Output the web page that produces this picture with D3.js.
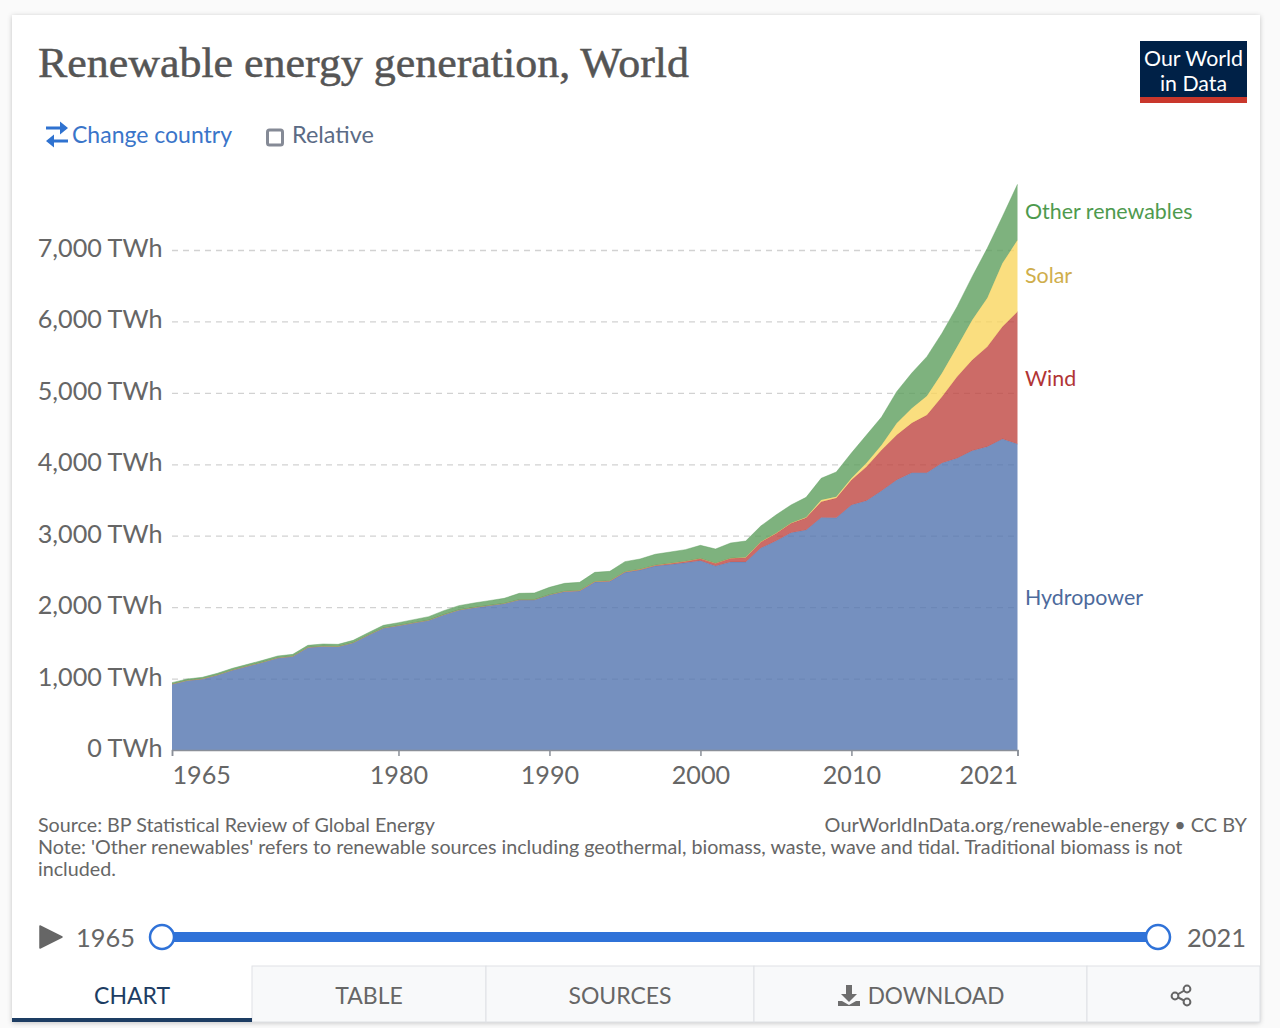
<!DOCTYPE html>
<html>
<head>
<meta charset="utf-8">
<script src="https://cdn.jsdelivr.net/npm/d3@7"></script>
<style>
  html, body { margin: 0; padding: 0; background: #fafafa; overflow: hidden; }
  svg { display: block; }
  text { font-family: Lato, sans-serif; }
</style>
</head>
<body>
<div id="contenedor"></div>
<script>
const ANCHO = 1280;
const ALTO = 1028;

const anios = d3.range(1965, 2022);

// values in TWh
const hydro = [923, 974, 996, 1051, 1120, 1175, 1230, 1290, 1312, 1437,
  1454, 1449, 1503, 1609, 1709, 1743, 1780, 1817, 1895, 1961,
  1994, 2023, 2051, 2103, 2103, 2172, 2218, 2227, 2352, 2361,
  2487, 2519, 2575, 2597, 2620, 2650, 2576, 2632, 2632, 2828,
  2926, 3040, 3080, 3255, 3250, 3430, 3490, 3630, 3780, 3883,
  3883, 4017, 4085, 4190, 4247, 4354, 4284];
const wind = [0, 0, 0, 0, 0, 0, 0, 0, 0, 0,
  0, 0, 0, 0, 0, 0, 0, 0, 0, 0,
  1, 1, 1, 1, 2, 3, 4, 5, 6, 7,
  8, 10, 12, 16, 21, 31, 38, 52, 63, 85,
  104, 133, 170, 222, 278, 350, 477, 570, 630, 694,
  807, 930, 1142, 1270, 1400, 1573, 1853];
const solar = [0, 0, 0, 0, 0, 0, 0, 0, 0, 0,
  0, 0, 0, 0, 0, 0, 0, 0, 0, 0,
  0, 0, 0, 0, 0, 0, 0, 0, 0, 0,
  0, 0, 0, 0, 1, 1, 1, 2, 3, 4,
  4, 6, 8, 23, 17, 24, 50, 70, 163, 208,
  267, 331, 420, 560, 680, 886, 1003];
const otras = [20, 20, 21, 22, 23, 24, 25, 26, 27, 28,
  30, 30, 32, 34, 36, 40, 45, 50, 56, 60,
  63, 67, 71, 89, 93, 102, 111, 115, 129, 133,
  142, 145, 153, 159, 163, 183, 199, 212, 228, 219,
  256, 251, 279, 304, 347, 354, 393, 392, 444, 493,
  550, 557, 560, 607, 698, 654, 780];

const nombres = ["Hydropower", "Wind", "Solar", "Other renewables"];
const colores = ["#5274af", "#bf4641", "#f9d65f", "#5e9f5e"];
const coloresTexto = ["#4c6a9c", "#b13535", "#cfae4c", "#4e9a4e"];
const posicionEtiqueta = [598, 379, 276, 212];
const marcasY = [0, 1000, 2000, 3000, 4000, 5000, 6000, 7000];
const marcasX = [1965, 1980, 1990, 2000, 2010, 2021];
const pestanias = ["CHART", "TABLE", "SOURCES", "DOWNLOAD", ""];
const cortesPestanias = [12, 252, 486, 754, 1087, 1260];

const filas = anios.map((a, i) => ({
  anio: a, Hydropower: hydro[i], Wind: wind[i], Solar: solar[i], "Other renewables": otras[i],
}));
const capas = d3.stack().keys(nombres)(filas);

const $svg = d3.select("#contenedor").append("svg")
  .attr("width", ANCHO).attr("height", ALTO);

const filtro = $svg.append("defs").append("filter").attr("id", "sombra")
  .attr("x", "-3%").attr("y", "-3%").attr("width", "106%").attr("height", "106%");
filtro.append("feDropShadow").attr("dx", 0).attr("dy", 1).attr("stdDeviation", 2.5)
  .attr("flood-color", "#000").attr("flood-opacity", 0.22);

// card
$svg.append("rect").attr("x", 12).attr("y", 15).attr("width", 1248).attr("height", 1007)
  .attr("fill", "#fff").attr("filter", "url(#sombra)");

// header
$svg.append("text").attr("x", 38).attr("y", 77)
  .attr("textLength", 651).attr("lengthAdjust", "spacingAndGlyphs")
  .style("font-family", "'Liberation Serif', serif").style("font-size", "43px")
  .attr("fill", "#555").attr("stroke", "#555").attr("stroke-width", 0.5)
  .text("Renewable energy generation, World");

$svg.append("rect").attr("x", 1140).attr("y", 41).attr("width", 107).attr("height", 62).attr("fill", "#002147");
$svg.append("rect").attr("x", 1140).attr("y", 97).attr("width", 107).attr("height", 6).attr("fill", "#c9372c");
$svg.append("text").attr("x", 1144).attr("y", 66)
  .attr("textLength", 99).attr("lengthAdjust", "spacingAndGlyphs")
  .style("font-size", "20.8px").attr("fill", "#fff").text("Our World");
$svg.append("text").attr("x", 1160).attr("y", 91)
  .attr("textLength", 67).attr("lengthAdjust", "spacingAndGlyphs")
  .style("font-size", "20.8px").attr("fill", "#fff").text("in Data");

// controls
$svg.append("path")
  .attr("d", "M46 126.5h14v-5l8 6.5l-8 6.5v-5h-14zM68 139.5h-14v-5l-8 6.5l8 6.5v-5h14z")
  .attr("fill", "#2f72d0");
$svg.append("text").attr("x", 72).attr("y", 143).style("font-size", "23px")
  .attr("fill", "#3a75c9").text("Change country");
$svg.append("rect").attr("x", 267.5).attr("y", 130).attr("width", 15).attr("height", 15).attr("rx", 2)
  .attr("fill", "#fff").attr("stroke", "#858a96").attr("stroke-width", 3);
$svg.append("text").attr("x", 292).attr("y", 143).style("font-size", "23.4px")
  .attr("fill", "#5b6b85").text("Relative");

// plot
const x = d3.scaleLinear().domain([1965, 2021]).range([172, 1017.5]);
const y = d3.scaleLinear().domain([0, 7000]).range([750, 250]);

const ejeY = d3.axisLeft(y).tickValues(marcasY)
  .tickSize(-(1017.5 - 172)).tickPadding(9.5)
  .tickFormat(d => d3.format(",")(d) + " TWh");
const gY = $svg.append("g").attr("transform", "translate(172,0)").call(ejeY);
gY.select(".domain").remove();
gY.selectAll("line").attr("stroke", "#d2d2d2").attr("stroke-width", 1.3).attr("stroke-dasharray", "6,5");
gY.selectAll("line").filter(d => d === 0).remove();
gY.selectAll("text").attr("fill", "#666").style("font-size", "25.2px").attr("dy", "0.26em");

const area = d3.area()
  .x((d, i) => x(anios[i]))
  .y0(d => y(d[0]))
  .y1(d => y(d[1]));
const linea = d3.line()
  .x((d, i) => x(anios[i]))
  .y(d => y(d[1]));

capas.forEach((capa, i) => {
  $svg.append("path").attr("d", area(capa)).attr("fill", colores[i]).attr("fill-opacity", 0.8);
  $svg.append("path").attr("d", linea(capa)).attr("fill", "none")
    .attr("stroke", colores[i]).attr("stroke-opacity", 0.55).attr("stroke-width", 0.8);
});

const ejeX = d3.axisBottom(x).tickValues(marcasX).tickSize(6).tickPadding(10)
  .tickFormat(d3.format("d"));
const gX = $svg.append("g").attr("transform", "translate(0,750)").call(ejeX);
gX.select(".domain").attr("stroke", "#8a8f98").attr("stroke-width", 1.5);
gX.selectAll("line").attr("stroke", "#8a8f98").attr("stroke-width", 1.5);
gX.selectAll("text").attr("fill", "#666").style("font-size", "25.2px")
  .attr("text-anchor", d => d === 1965 ? "start" : d === 2021 ? "end" : "middle");

// series labels
nombres.forEach((n, i) => {
  $svg.append("text").attr("x", 1025).attr("y", posicionEtiqueta[i]).attr("dy", "0.35em")
    .style("font-size", "21.4px").attr("fill", coloresTexto[i]).text(n);
});

// footer
const pie = $svg.append("g").attr("fill", "#666").style("font-size", "19.7px");
pie.append("text").attr("x", 38).attr("y", 832).text("Source: BP Statistical Review of Global Energy");
pie.append("text").attr("x", 1247).attr("y", 832).attr("text-anchor", "end").style("font-size", "19.9px").text("OurWorldInData.org/renewable-energy • CC BY");
pie.append("text").attr("x", 38).attr("y", 854).text("Note: 'Other renewables' refers to renewable sources including geothermal, biomass, waste, wave and tidal. Traditional biomass is not");
pie.append("text").attr("x", 38).attr("y", 876).text("included.");

// timeline
const xLinea = d3.scaleLinear().domain([1965, 2021]).range([162, 1158]);
$svg.append("path").attr("d", "M40 926L62 937L40 948Z").attr("fill", "#666").attr("stroke", "#666").attr("stroke-width", 1.5).attr("stroke-linejoin", "round");
$svg.append("text").attr("x", 76).attr("y", 947).style("font-size", "25.4px").attr("fill", "#666").text("1965");
$svg.append("text").attr("x", 1187).attr("y", 947).style("font-size", "25.4px").attr("fill", "#666").text("2021");
$svg.append("line").attr("x1", xLinea(1965)).attr("x2", xLinea(2021)).attr("y1", 937).attr("y2", 937)
  .attr("stroke", "#2f72d8").attr("stroke-width", 10);
[1965, 2021].forEach(a => {
  $svg.append("circle").attr("cx", xLinea(a)).attr("cy", 937).attr("r", 12)
    .attr("fill", "#fff").attr("stroke", "#2f72d8").attr("stroke-width", 2.5);
});

// tabs
pestanias.forEach((t, i) => {
  const x0 = cortesPestanias[i], x1 = cortesPestanias[i + 1];
  if (i > 0) {
    $svg.append("rect").attr("x", x0).attr("y", 966).attr("width", x1 - x0).attr("height", 56)
      .attr("fill", "#f8f9fa").attr("stroke", "#dfe1e5").attr("stroke-width", 1);
  }
  const dx = t === "DOWNLOAD" ? 15.5 : 0;
  $svg.append("text").attr("x", (x0 + x1) / 2 + dx).attr("y", 1004).attr("text-anchor", "middle")
    .style("font-size", t === "DOWNLOAD" ? "22.6px" : "23px").attr("fill", i === 0 ? "#1d3d63" : "#666").text(t);
});
$svg.append("rect").attr("x", 12).attr("y", 1018).attr("width", 240).attr("height", 4).attr("fill", "#1d3d63");

// download icon
$svg.append("path")
  .attr("d", "M846 985h6v9h5l-8 8l-8 -8h5zM838 1001h4l7 4l7 -4h4v5h-22z")
  .attr("fill", "#6e6e6e");
// share icon
const compartir = [[1187, 989], [1175, 996], [1187, 1002]];
$svg.append("path").attr("d", d3.line()(compartir)).attr("fill", "none").attr("stroke", "#666").attr("stroke-width", 2);
compartir.forEach(p => {
  $svg.append("circle").attr("cx", p[0]).attr("cy", p[1]).attr("r", 3.4)
    .attr("fill", "#f8f9fa").attr("stroke", "#666").attr("stroke-width", 2);
});
</script>
</body>
</html>
